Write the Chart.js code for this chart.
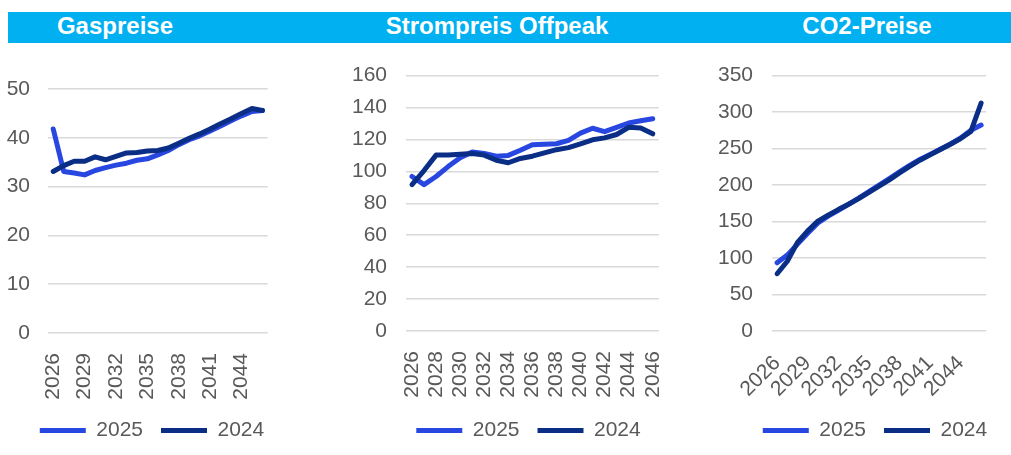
<!DOCTYPE html>
<html>
<head>
<meta charset="utf-8">
<script src="https://cdn.jsdelivr.net/npm/chart.js@4.4.1/dist/chart.umd.min.js"></script>
<style>
  body { margin: 0; background: #fff; font-family: "Liberation Sans", Arial, sans-serif; }
  #wrap { position: relative; width: 1011px; height: 455px; overflow: hidden; }
  .bar { position: absolute; left: 8px; top: 12px; width: 1003px; height: 31px; background: #00b0f0; }
  .title { position: absolute; top: 9.5px; width: 400px; text-align: center; color: #fff;
           font-weight: bold; font-size: 24px; line-height: 31px; white-space: nowrap; }
  canvas { position: absolute; top: 44px; }
</style>
</head>
<body>
<div id="wrap">
  <div class="bar"></div>
  <div class="title" style="left:-85px">Gaspreise</div>
  <div class="title" style="left:297px">Strompreis Offpeak</div>
  <div class="title" style="left:667px">CO2-Preise</div>
  <canvas id="gas" width="300" height="411" style="left:0px"></canvas>
  <canvas id="strom" width="350" height="411" style="left:340px"></canvas>
  <canvas id="co2" width="311" height="411" style="left:700px"></canvas>
</div>
<script>
const years = ["2026", "2027", "2028", "2029", "2030", "2031", "2032", "2033", "2034", "2035", "2036",
  "2037", "2038", "2039", "2040", "2041", "2042", "2043", "2044", "2045", "2046"];

const gas_2025 = [41.8, 33.1, 32.8, 32.4, 33.3, 33.9, 34.4, 34.8, 35.4, 35.7, 36.5, 37.4, 38.6, 39.6, 40.4, 41.4, 42.4, 43.5, 44.5, 45.4, 45.6];
const gas_2024 = [33.1, 34.3, 35.2, 35.2, 36.1, 35.5, 36.2, 36.9, 37.0, 37.3, 37.4, 37.9, 38.9, 39.9, 40.8, 41.8, 42.9, 43.9, 45.0, 46.0, 45.6];

const strom_2025 = [96.8, 91.7, 96.8, 103, 108.5, 112.2, 111.2, 109.5, 110, 113.2, 116.7, 117, 117.3, 119.4, 124, 127, 124.9, 127.6, 130.3, 131.7, 133];
const strom_2024 = [91.7, 100.5, 110.2, 110.2, 110.8, 111.2, 110.2, 107, 105.4, 108.1, 109.5, 111.6, 113.6, 114.9, 117.3, 119.8, 121, 123.1, 127.6, 127.2, 123.5];

const co2_2025 = [93.5, 104, 119, 134, 148, 157.5, 165.5, 173.5, 182, 191, 200, 209, 218, 227, 235, 242, 249, 256.5, 264.5, 275, 282.2];
const co2_2024 = [78.5, 95.6, 121.4, 137.2, 150.5, 158.7, 166.4, 173.7, 181.4, 190, 198.5, 207.1, 216.6, 225.6, 234.1, 241.4, 248.7, 256, 263.7, 273.6, 312.2];

const textColor = "#595959";
const font = { family: "'Liberation Sans', Arial, sans-serif", size: 21 };

// moves the legend sideways so it sits where the original one does
const legendShift = {
  id: "legendShift",
  afterLayout(chart, args, opts) {
    chart.legend.left += opts.dx;
    chart.legend.right += opts.dx;
  },
};

function makeConfig(d25, d24, p) {
  return {
    type: "line",
    data: {
      labels: years,
      datasets: [
        {
          label: "2025",
          data: d25,
          borderColor: "#2747e0",
          backgroundColor: "#2747e0",
          borderWidth: 5,
          borderCapStyle: "round",
          borderJoinStyle: "round",
          pointRadius: 0,
          order: 1,
        },
        {
          label: "2024",
          data: d24,
          borderColor: "#0a2e86",
          backgroundColor: "#0a2e86",
          borderWidth: 5,
          borderCapStyle: "round",
          borderJoinStyle: "round",
          pointRadius: 0,
          order: 0,
        },
      ],
    },
    options: {
      responsive: false,
      animation: false,
      layout: { padding: p.pad },
      scales: {
        x: {
          offset: true,
          grid: { display: false },
          border: { display: false },
          ticks: {
            autoSkip: false,
            minRotation: p.rot,
            maxRotation: p.rot,
            padding: 12,
            color: textColor,
            font: font,
            callback: function (v, i) {
              return i % p.every === 0 ? this.getLabelForValue(v) : "";
            },
          },
          afterFit: (s) => { s.height = p.xh; },
        },
        y: {
          min: 0,
          max: p.max,
          ticks: { stepSize: p.step, padding: p.ypad, color: textColor, font: font },
          grid: { color: "#d9d9d9", lineWidth: 1.5, drawTicks: false },
          border: { display: false },
          afterFit: (s) => { s.width = p.yw; },
        },
      },
      plugins: {
        legend: {
          position: "bottom",
          labels: {
            usePointStyle: true,
            pointStyle: "line",
            pointStyleWidth: 46,
            padding: 18,
            color: textColor,
            font: font,
            sort: (a, b) => a.datasetIndex - b.datasetIndex,
          },
        },
        legendShift: { dx: p.dx },
        tooltip: { enabled: false },
      },
    },
    plugins: [legendShift],
  };
}

const config_gas = makeConfig(gas_2025, gas_2024, {
  pad: { left: 0, right: 16, top: 45, bottom: 4 },
  yw: 48, xh: 69, max: 50, step: 10, every: 3, rot: 90, ypad: 18, dx: 10,
});
const config_strom = makeConfig(strom_2025, strom_2024, {
  pad: { left: 0, right: 3, top: 27, bottom: 4 },
  yw: 66, xh: 71, max: 160, step: 20, every: 2, rot: 90, ypad: 19, dx: 15,
});
const config_co2 = makeConfig(co2_2025, co2_2024, {
  pad: { left: 0, right: 3, top: 15, bottom: 4 },
  yw: 72, xh: 71, max: 350, step: 50, every: 3, rot: 45, ypad: 19, dx: 21,
});

const gas = new Chart(document.getElementById("gas"), config_gas);
const strom = new Chart(document.getElementById("strom"), config_strom);
const co2 = new Chart(document.getElementById("co2"), config_co2);
</script>
</body>
</html>
